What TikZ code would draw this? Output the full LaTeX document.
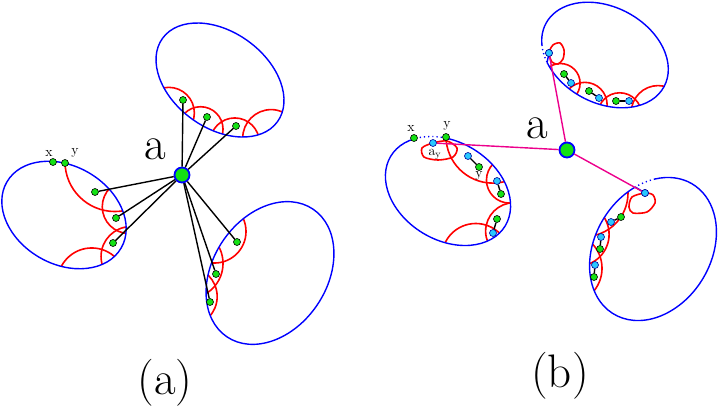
\documentclass[tikz,border=0pt]{standalone}
\usepackage{tikz}
\usetikzlibrary{calc}
\definecolor{gfill}{RGB}{20,225,20}
\definecolor{cfill}{RGB}{40,200,255}
\tikzset{
  ell/.style={blue, line width=1.4pt},
  rarc/.style={red, line width=1.6pt},
  gdot/.style={circle, draw=black, fill=gfill, line width=0.6pt, minimum size=7pt, inner sep=0pt},
  cdot/.style={circle, draw=blue!60!black, fill=cfill, line width=0.6pt, minimum size=7pt, inner sep=0pt},
  hub/.style={circle, draw=blue, fill=gfill, line width=1.8pt, minimum size=15pt, inner sep=0pt},
  conn/.style={black, line width=1.4pt},
  mconn/.style={magenta, line width=1.4pt},
  pair/.style={black, line width=1.4pt},
  bdots/.style={blue, line width=1.4pt, dash pattern=on 1.2pt off 3pt},
  big/.style={font=\fontsize{47}{54}\selectfont, inner sep=0pt},
  small/.style={font=\fontsize{14}{16}\selectfont, inner sep=0pt}
}
% circle through three points (drawn full, meant to be clipped)
\newcommand{\circthree}[3]{%
  \coordinate (cA) at #1; \coordinate (cB) at #2; \coordinate (cC) at #3;
  \coordinate (cm1) at ($(cA)!.5!(cB)$);
  \coordinate (cn1) at ($(cm1)!1!90:(cB)$);
  \coordinate (cm2) at ($(cB)!.5!(cC)$);
  \coordinate (cn2) at ($(cm2)!1!90:(cC)$);
  \coordinate (cc) at (intersection of cm1--cn1 and cm2--cn2);
  \draw[rarc] let \p1=($(cA)-(cc)$), \n1={veclen(\x1,\y1)} in (cc) circle (\n1);
}
\begin{document}
\begin{tikzpicture}[x=1pt,y=-1pt]
\useasboundingbox (0,0) rectangle (718,415);
% ================= panel (a) =================
% top ellipse
\begin{scope}
  \clip[rotate around={-36:(220,80)}] (220,80) ellipse [x radius=71pt, y radius=48pt];
  \circthree{(163,88)}{(187,95)}{(194,117)}
  \circthree{(184,114)}{(204,107)}{(223,129)}
  \circthree{(213,131)}{(233,118)}{(257,132)}
  \circthree{(243,134)}{(256,114)}{(280,111)}
\end{scope}
\draw[ell, rotate around={-36:(220,80)}] (220,80) ellipse [x radius=71pt, y radius=48pt];
% left ellipse
\begin{scope}
  \clip[rotate around={-30:(64,215)}] (64,215) ellipse [x radius=66pt, y radius=49pt];
  \circthree{(65,163)}{(87,203)}{(122,211)}
  \circthree{(109,189)}{(103,213)}{(124,233)}
  \circthree{(126,227)}{(106,240)}{(102,264)}
  \circthree{(61,267)}{(90,248)}{(115,257)}
\end{scope}
\draw[ell, rotate around={-30:(64,215)}] (64,215) ellipse [x radius=66pt, y radius=49pt];
% right ellipse
\begin{scope}
  \clip[rotate around={56:(270,273)}] (270,273) ellipse [x radius=77pt, y radius=57pt];
  \circthree{(243,218)}{(240,250)}{(213,263)}
  \circthree{(219,247)}{(223,265)}{(207,293)}
  \circthree{(208,275)}{(217,300)}{(210,316)}
\end{scope}
\draw[ell, rotate around={56:(270,273)}] (270,273) ellipse [x radius=77pt, y radius=57pt];
% hub and dots
\node[hub] (A) at (182,175) {};
\node[big] (la) at (155,149) {a};
\node[gdot] (t1) at (183,100) {};
\node[gdot] (t2) at (207,117) {};
\node[gdot] (t3) at (236,126) {};
\node[gdot] (l1) at (95,192) {};
\node[gdot] (l2) at (116,218) {};
\node[gdot] (l3) at (113,243) {};
\node[gdot] (r1) at (237,242) {};
\node[gdot] (r2) at (216,274) {};
\node[gdot] (r3) at (210,302) {};
\node[gdot] (xa) at (53,162) {};
\node[gdot] (ya) at (65,163) {};
\node[small] (lxa) at (49,153) {x};
\node[small] (lya) at (75,153) {y};
\foreach \n in {t1,t2,t3,l1,l2,l3,r1,r2,r3} \draw[conn] (A) -- (\n);
\node[big] (capa) at (165,383) {(a)};
% ================= panel (b) =================
% top ellipse
\begin{scope}
  \clip[rotate around={-28:(605,55)}] (605,55) ellipse [x radius=67pt, y radius=48pt];
  \circthree{(553,65)}{(575,70)}{(578,92)}
  \circthree{(570,88)}{(590,83)}{(607,106)}
  \circthree{(600,105)}{(617,93)}{(640,107)}
  \circthree{(632,106)}{(647,88)}{(663,86)}
\end{scope}
\begin{scope}[shift={(605,55)}, rotate=-28]
  \draw[ell] (224.7:67pt and 48pt) coordinate (tbs) arc[start angle=224.7, end angle=565.5, x radius=67pt, y radius=48pt];
  \draw[bdots] (205.5:67pt and 48pt) arc[start angle=205.5, end angle=224.7, x radius=67pt, y radius=48pt];
\end{scope}
\draw[rarc] plot[smooth cycle] coordinates {(549,53) (553,45) (560,43) (564,50) (563,59) (558,64) (552,62)};
% left ellipse
\begin{scope}
  \clip[rotate around={-31.5:(448,191)}] (448,191) ellipse [x radius=67pt, y radius=49pt];
  \circthree{(446,137)}{(465,174)}{(503,182)}
  \circthree{(493,164)}{(487,185)}{(509,203)}
  \circthree{(510,203)}{(490,216)}{(487,240)}
  \circthree{(445,243)}{(470,224)}{(497,231)}
\end{scope}
\begin{scope}[shift={(448,191)}, rotate=-31.5]
  \draw[ell] (146.5:67pt and 49pt) arc[start angle=146.5, end angle=476, x radius=67pt, y radius=49pt];
  \draw[bdots] (116:67pt and 49pt) arc[start angle=116, end angle=146.5, x radius=67pt, y radius=49pt];
\end{scope}
\draw[rarc] plot[smooth cycle] coordinates {(433,143) (422,148) (424,157) (438,160) (453,157) (457,148) (447,141)};
% right ellipse
\begin{scope}
  \clip[rotate around={58.5:(653,249)}] (653,249) ellipse [x radius=76pt, y radius=58pt];
  \circthree{(628,193)}{(617,222)}{(596,235)}
  \circthree{(607,223)}{(605,250)}{(593,262)}
  \circthree{(597,250)}{(602,267)}{(593,292)}
\end{scope}
\begin{scope}[shift={(653,249)}, rotate=58.5]
  \draw[ell] (55:76pt and 58pt) coordinate (rbs) arc[start angle=55, end angle=397, x radius=76pt, y radius=58pt];
  \draw[bdots] (37:76pt and 58pt) arc[start angle=37, end angle=55, x radius=76pt, y radius=58pt];
\end{scope}
\draw[rarc] plot[smooth cycle] coordinates {(645,193) (653,195) (655,203) (647,212) (633,213) (629,207) (632,197)};
% hub and dots
\node[hub] (B) at (567,150) {};
\node[big] (lb) at (537,128) {a};
\node[cdot] (ct) at (549,53) {};
\node[cdot] (cl) at (433,143) {};
\node[cdot] (cr) at (645,193) {};
\draw[ell] (tbs) -- (ct.center);
\draw[ell] (rbs) -- (cr.center);
\node[cdot] at (ct) {};
\node[cdot] at (cr) {};
\draw[mconn] (B) -- (ct);
\draw[mconn] (B) -- (cl);
\draw[mconn] (B) -- (cr);
\node[gdot] (xb) at (414,138) {};
\node[gdot] (yb) at (446,137) {};
\node[small] (lxb) at (411,128) {x};
\node[small] (lyb) at (447,126) {y};
\node[small] (lay) at (435,154) {a$_{\mathrm{y}}$};
\node[small] (lvy) at (479,176) {y};
% pairs top
\node[gdot] (pg1) at (564,74) {}; \node[cdot] (pc1) at (571,83) {};
\node[gdot] (pg2) at (589,91) {}; \node[cdot] (pc2) at (599,98) {};
\node[gdot] (pg3) at (616,101) {}; \node[cdot] (pc3) at (629,101) {};
% pairs left
\node[cdot] (pc4) at (468,156) {}; \node[gdot] (pg4) at (479,167) {};
\node[cdot] (pc5) at (497,181) {}; \node[gdot] (pg5) at (501,194) {};
\node[gdot] (pg6) at (497,219) {}; \node[cdot] (pc6) at (493,233) {};
% pairs right
\node[cdot] (pc7) at (611,222) {}; \node[gdot] (pg7) at (621,217) {};
\node[cdot] (pc8) at (601,237) {}; \node[gdot] (pg8) at (600,249) {};
\node[cdot] (pc9) at (595,265) {}; \node[gdot] (pg9) at (594,277) {};
\foreach \i in {1,...,9} \draw[pair] (pg\i) -- (pc\i);
\node[big] (capb) at (560,376) {(b)};
\end{tikzpicture}
\end{document}
